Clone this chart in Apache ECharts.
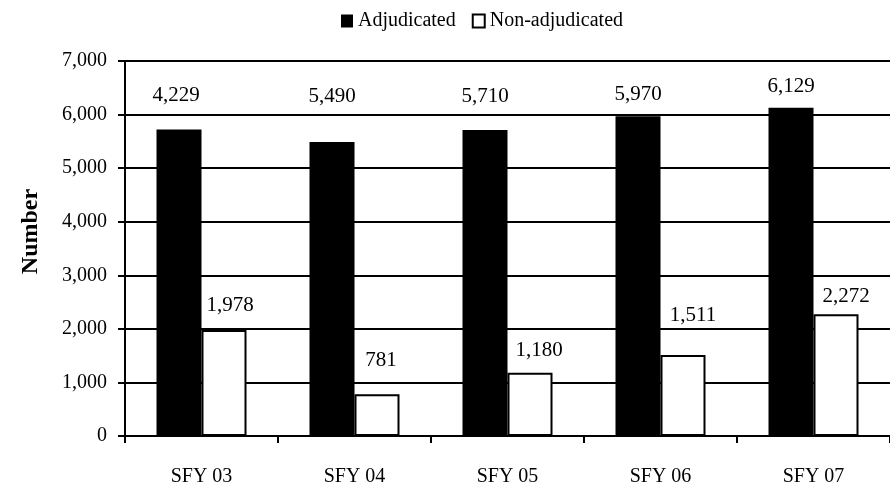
<!DOCTYPE html>
<html>
<head>
<meta charset="utf-8">
<script src="https://cdn.jsdelivr.net/npm/echarts@6/dist/echarts.min.js"></script>
<style>
html,body{margin:0;padding:0;background:#fff;}
#chart{width:890px;height:489px;}
</style>
</head>
<body>
<div id="chart"></div>
<script>
// ---- data ----
const categories = ['SFY 03', 'SFY 04', 'SFY 05', 'SFY 06', 'SFY 07'];
const adjudicated = [5720, 5490, 5710, 5970, 6129];
const nonAdjudicated = [1978, 781, 1180, 1511, 2272];
const adjudicatedLabels = ['4,229', '5,490', '5,710', '5,970', '6,129'];
const nonAdjudicatedLabels = ['1,978', '781', '1,180', '1,511', '2,272'];
const yTickLabels = ['0', '1,000', '2,000', '3,000', '4,000', '5,000', '6,000', '7,000'];
const seriesNames = ['Adjudicated', 'Non-adjudicated'];

// ---- label nudges (layout only) ----
const adjLabelLift = [23, 34, 23, 11, 10];
const adjLabelShift = [-3, 0, 0, 0, 0];
const nonLabelLift = [14, 23, 11, 29, 7];
const nonLabelShift = [6, 4, 9, 10, 10];

const FONT = "'Liberation Serif', 'Times New Roman', serif";

function items(values, lift, shift) {
  return values.map((v, i) => ({
    value: v,
    label: { distance: lift[i], offset: [shift[i], 0] }
  }));
}

const chart = echarts.init(document.getElementById('chart'), null, { renderer: 'canvas' });
chart.setOption({
  backgroundColor: '#ffffff',
  animation: false,
  textStyle: { fontFamily: FONT, color: '#000' },
  legend: {
    data: seriesNames,
    left: 336,
    top: 6,
    itemWidth: 12,
    itemHeight: 13,
    itemGap: 16,
    icon: 'rect',
    textStyle: { fontFamily: FONT, fontSize: 20, color: '#000' }
  },
  grid: { left: 125, right: -6, top: 61, bottom: 53, containLabel: false },
  xAxis: {
    type: 'category',
    data: categories,
    axisLine: { lineStyle: { color: '#000', width: 2 } },
    axisTick: { show: true, length: 7, lineStyle: { color: '#000', width: 2 } },
    axisLabel: { fontFamily: FONT, fontSize: 20, color: '#000', margin: 31 }
  },
  yAxis: {
    type: 'value',
    min: 0,
    max: 7000,
    interval: 1000,
    name: 'Number',
    nameLocation: 'middle',
    nameGap: 82,
    nameTextStyle: { fontFamily: FONT, fontSize: 24, fontWeight: 'bold', color: '#000', padding: [0, 0, 0, 34] },
    axisLine: { show: true, lineStyle: { color: '#000', width: 2 } },
    axisTick: { show: true, length: 7, lineStyle: { color: '#000', width: 2 } },
    axisLabel: {
      fontFamily: FONT, fontSize: 20, color: '#000', margin: 18,
      formatter: v => yTickLabels[Math.round(v / 1000)]
    },
    splitLine: { show: true, lineStyle: { color: '#000', width: 2 } }
  },
  series: [
    {
      name: seriesNames[0],
      type: 'bar',
      data: items(adjudicated, adjLabelLift, adjLabelShift),
      barWidth: 45,
      barGap: '0%',
      itemStyle: { color: '#000', borderColor: '#000', borderWidth: 0 },
      label: {
        show: true, position: 'top', fontFamily: FONT, fontSize: 21, color: '#000', lineHeight: 22,
        formatter: p => adjudicatedLabels[p.dataIndex]
      }
    },
    {
      name: seriesNames[1],
      type: 'bar',
      data: items(nonAdjudicated, nonLabelLift, nonLabelShift),
      barWidth: 45,
      barGap: '0%',
      itemStyle: { color: '#fff', borderColor: '#000', borderWidth: 2 },
      label: {
        show: true, position: 'top', fontFamily: FONT, fontSize: 21, color: '#000', lineHeight: 22,
        formatter: p => nonAdjudicatedLabels[p.dataIndex]
      }
    }
  ]
});
</script>
</body>
</html>
